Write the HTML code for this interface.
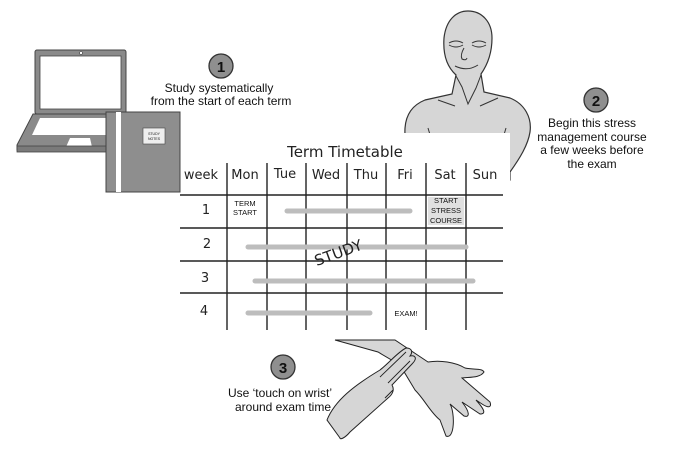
<!DOCTYPE html>
<html><head><meta charset="utf-8"><style>
html,body{margin:0;padding:0;background:#fff;width:673px;height:474px;overflow:hidden}
svg{display:block}
.h{font-family:"Comic Sans MS","DejaVu Sans","Liberation Sans",sans-serif;fill:#222}
.c{font-family:"Liberation Sans",sans-serif;fill:#111}
</style></head><body>
<svg width="673" height="474" viewBox="0 0 673 474" xmlns="http://www.w3.org/2000/svg">
<!-- person -->
<g fill="#d6d6d6" stroke="#333" stroke-width="1.2">
<path d="M406 175 L405 135 C404 118 410 106 425 100 L452 94 L456 75 C446 66 443 52 444 38 C446 20 456 11 468 11 C482 11 492 22 492 38 C492 52 488 64 481 74 L484 92 L510 98 C525 104 532 118 530 132 C528 145 520 158 510 172 L510 180 Z"/>
</g>
<g fill="none" stroke="#333" stroke-width="1">
<path d="M449 43 Q456 39 463 43 M449 45 Q456 49 463 45"/>
<path d="M472 43 Q479 39 486 43 M472 45 Q479 49 486 45"/>
<path d="M464 48 Q460 55 462 59 Q466 61 467 58"/>
<path d="M455 66 Q467 72 478 65"/>
<path d="M456 76 L462 87 L468 104 L476 88 L481 75"/>
<path d="M438 100 L455 106 M498 98 L480 106"/>
<path d="M428 128 L431 138 M506 128 L503 138"/>
</g>
<!-- table background -->
<rect x="170" y="133" width="340" height="204" fill="#fff"/>
<!-- laptop -->
<rect x="35" y="50" width="91" height="64" rx="2" fill="#8a8a8a" stroke="#444"/>
<rect x="40" y="56" width="81" height="53" fill="#fff" stroke="#444" stroke-width="0.8"/>
<circle cx="81" cy="53" r="1.5" fill="#fff" stroke="#444" stroke-width="0.6"/>
<path d="M33 114 L110 114 L110 150 L17 150 L17 145 Z" fill="#8a8a8a" stroke="#444"/>
<path d="M40 118 L106 118 L106 135 L32 135 Z" fill="#fff"/>
<path d="M70 138 L90 138 L92 147 L66 147 Z" fill="#fff"/>
<rect x="17" y="146" width="93" height="6" fill="#7a7a7a" stroke="#444" stroke-width="0.8"/>
<!-- notebook -->
<rect x="106" y="112" width="74" height="80" fill="#8e8e8e" stroke="#444"/>
<rect x="116" y="112" width="5" height="80" fill="#fff"/>
<rect x="143" y="128" width="22" height="16" fill="#eee" stroke="#444" stroke-width="0.6"/>
<text x="154" y="135" font-size="3.5" text-anchor="middle" class="c">STUDY</text>
<text x="154" y="140" font-size="3.5" text-anchor="middle" class="c">NOTES</text>
<!-- callouts -->
<g fill="#8f8f8f" stroke="#333" stroke-width="1.3">
<circle cx="221" cy="66" r="12"/><circle cx="596" cy="100" r="12"/><circle cx="283" cy="367" r="12"/>
</g>
<g class="c" font-weight="bold" font-size="15" text-anchor="middle">
<text x="221" y="72">1</text><text x="596" y="106">2</text><text x="283" y="373">3</text>
</g>
<g class="c" font-size="12" text-anchor="middle">
<text x="219" y="92">Study systematically</text>
<text x="221" y="105">from the start of each term</text>
<text x="592" y="127">Begin this stress</text>
<text x="592" y="141">management course</text>
<text x="592" y="154">a few weeks before</text>
<text x="592" y="168">the exam</text>
<text x="280" y="397">Use ‘touch on wrist’</text>
<text x="283" y="411">around exam time</text>
</g>
<!-- table -->
<text x="345" y="157" font-size="15" text-anchor="middle" class="h">Term Timetable</text>
<g stroke="#222" stroke-width="1.4">
<line x1="180" y1="195" x2="503" y2="195"/><line x1="180" y1="228" x2="503" y2="228"/>
<line x1="180" y1="261" x2="503" y2="261"/><line x1="180" y1="293" x2="503" y2="293"/>
<line x1="227" y1="163" x2="227" y2="330"/><line x1="267" y1="163" x2="267" y2="330"/>
<line x1="306" y1="163" x2="306" y2="330"/><line x1="347" y1="163" x2="347" y2="330"/>
<line x1="386" y1="163" x2="386" y2="330"/><line x1="426" y1="163" x2="426" y2="330"/>
<line x1="466" y1="163" x2="466" y2="330"/>
</g>
<g class="h" font-size="13" text-anchor="middle">
<text x="201" y="179">week</text><text x="245" y="179">Mon</text><text x="285" y="178">Tue</text>
<text x="326" y="179">Wed</text><text x="366" y="179">Thu</text><text x="405" y="179">Fri</text>
<text x="445" y="179">Sat</text><text x="485" y="179">Sun</text>
<text x="206" y="214">1</text><text x="207" y="248">2</text><text x="205" y="282">3</text><text x="204" y="315">4</text>
</g>
<g stroke="#bdbdbd" stroke-width="5" stroke-linecap="round">
<line x1="287" y1="211" x2="410" y2="211"/><line x1="248" y1="247" x2="466" y2="247"/>
<line x1="255" y1="281" x2="473" y2="281"/><line x1="248" y1="313" x2="370" y2="313"/>
</g>
<rect x="428" y="197" width="36" height="28" fill="#ccc" opacity="0.6"/>
<g class="c" font-size="7.5" text-anchor="middle">
<text x="245" y="206">TERM</text><text x="245" y="215">START</text>
<text x="446" y="203">START</text><text x="446" y="213">STRESS</text><text x="446" y="223">COURSE</text>
<text x="406" y="316">EXAM!</text>
</g>
<text x="338" y="258" font-size="15" text-anchor="middle" class="h" transform="rotate(-20 338 252)">STUDY</text>
<!-- hands -->
<g fill="#d6d6d6" stroke="#222" stroke-width="1">
<path d="M335 340 L395 340 L428 362 C440 360 455 362 465 368 C475 370 482 368 484 372 C480 378 470 377 462 378 L490 402 C492 408 488 408 482 404 L476 400 C485 410 486 414 480 414 L462 402 C470 412 470 418 464 416 L450 404 C455 412 455 440 446 436 L440 420 C430 412 425 400 415 390 L400 365 L378 352 Z"/>
<path d="M327 420 C335 400 355 385 380 370 C390 362 398 352 406 348 C412 348 413 352 410 356 C415 355 418 358 412 364 L392 385 C395 390 392 395 388 398 L350 432 C345 438 340 440 340 438 Z"/>
</g>
<g fill="none" stroke="#222" stroke-width="0.9">
<path d="M380 377 L406 352 M388 383 L410 361 M385 398 L393 390"/>
</g>
</svg>
</body></html>
